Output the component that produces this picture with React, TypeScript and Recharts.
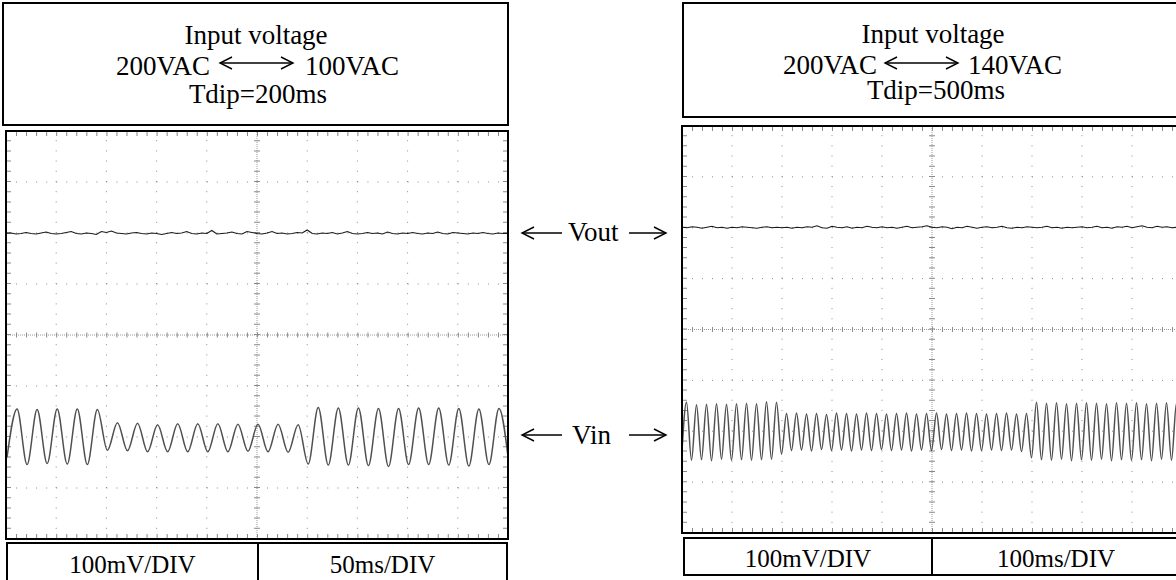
import React from "react";
import { LineChart, Line, XAxis, YAxis, ReferenceLine } from "recharts";

// 100mV/DIV, 8 divisions tall -> mV from -400 to 400
const DIV_X = [1, 2, 3, 4, 6, 7, 8, 9];
const DIV_Y = [-3, -2, -1, 1, 2, 3];

// left scope, 50ms/DIV: Vin extremes every 10ms (trough, peak, trough, ...)
const vinLeftStart = 1;
const vinLeftStep = 10;
const vinLeft = [
  -240, -145, -254, -146, -252, -145, -253, -145, -254, -146,
  -226, -172, -227, -173, -229, -176, -229, -174, -229, -174,
  -229, -174, -229, -175, -228, -175, -229, -175, -230, -176,
  -253, -142, -255, -143, -255, -143, -256, -144, -258, -144,
  -254, -143, -254, -143, -255, -144, -257, -145, -254, -144,
  -255,
];

const voutLeftStep = 5;
const voutLeft = [
  199, 200, 198, 199, 201, 199, 198, 200, 202, 199,
  198, 199, 201, 203, 199, 198, 200, 199, 197, 203,
  201, 204, 200, 199, 198, 200, 201, 199, 198, 200,
  199, 197, 199, 201, 199, 200, 203, 199, 198, 200,
  199, 205, 198, 199, 200, 202, 199, 198, 203, 201,
  199, 198, 200, 203, 199, 200, 198, 199, 201, 200,
  206, 199, 198, 200, 199, 201, 198, 200, 203, 199,
  198, 199, 201, 199, 200, 198, 202, 199, 198, 200,
  199, 201, 199, 198, 200, 199, 202, 199, 198, 201,
  200, 199, 198, 200, 199, 201, 199, 198, 200, 199,
  199,
];

// right scope, 100ms/DIV: Vin extremes every 10ms
const vinRightStart = -1;
const vinRightStep = 10;
const vinRight = [
  -255, -143, -257, -148, -256, -147, -258, -146, -255, -147,
  -257, -146, -256, -145, -257, -146, -256, -142, -255, -143,
  -245, -165, -238, -164, -237, -166, -239, -165, -236, -167,
  -238, -164, -237, -165, -239, -166, -237, -164, -238, -165,
  -236, -166, -238, -165, -237, -164, -239, -166, -237, -165,
  -238, -164, -236, -166, -238, -165, -237, -164, -239, -165,
  -238, -166, -237, -165, -238, -164, -237, -166, -240, -165,
  -252, -143, -256, -145, -257, -144, -255, -146, -258, -145,
  -256, -144, -257, -145, -255, -146, -258, -144, -256, -145,
  -257, -144, -256, -146, -258, -145, -255, -144, -257, -145,
  -256,
];

const voutRightStep = 10;
const voutRight = [
  201, 200, 202, 201, 199, 201, 203, 200, 201, 199,
  201, 200, 202, 201, 200, 199, 201, 202, 200, 201,
  200, 201, 199, 201, 200, 202, 201, 204, 200, 199,
  203, 201, 200, 202, 199, 201, 200, 203, 201, 200,
  202, 200, 201, 199, 201, 203, 200, 201, 202, 204,
  201, 200, 202, 201, 198, 201, 200, 203, 201, 199,
  201, 202, 200, 201, 203, 200, 199, 201, 200, 202,
  201, 200, 201, 203, 200, 201, 199, 201, 200, 201,
  202, 200, 201, 203, 200, 201, 199, 202, 201, 203,
  200, 202, 204, 201, 200, 203, 201, 202, 200, 201,
  201,
];

const GRID = "#8a8a8a";
const SERIF = "'Liberation Serif', 'Times New Roman', serif";

const toPoints = (vals: number[], start: number, step: number) =>
  vals.map((v, i) => ({ t: start + i * step, v }));

interface ScopeProps {
  width: number;
  height: number;
  msPerDiv: number;
  vin: { t: number; v: number }[];
  vout: { t: number; v: number }[];
}

const Scope = ({ width, height, msPerDiv, vin, vout }: ScopeProps) => {
  const xMax = msPerDiv * 10;
  const minorX = width / 50;
  const minorY = height / 40;
  const dotsH = `1 ${minorX - 1}`;
  const dotsV = `1 ${minorY - 1}`;

  return (
    <LineChart width={width} height={height} margin={{ top: 0, right: 0, bottom: 0, left: 0 }}>
      <XAxis type="number" dataKey="t" domain={[0, xMax]} hide allowDataOverflow />
      <YAxis type="number" dataKey="v" domain={[-400, 400]} hide allowDataOverflow />

      {DIV_X.map((d) => (
        <ReferenceLine key={"gx" + d} x={d * msPerDiv} stroke={GRID} strokeDasharray={dotsV} />
      ))}
      {DIV_Y.map((d) => (
        <ReferenceLine key={"gy" + d} y={d * 100} stroke={GRID} strokeDasharray={dotsH} />
      ))}

      {/* edge ticks */}
      <ReferenceLine y={-400} stroke={GRID} strokeWidth={10} strokeDasharray={dotsH} />
      <ReferenceLine y={400} stroke={GRID} strokeWidth={10} strokeDasharray={dotsH} />
      <ReferenceLine x={0} stroke={GRID} strokeWidth={10} strokeDasharray={dotsV} />
      <ReferenceLine x={xMax} stroke={GRID} strokeWidth={10} strokeDasharray={dotsV} />

      {/* centre cross with ticks */}
      <ReferenceLine y={0} stroke="#9a9a9a" strokeDasharray="1 1" />
      <ReferenceLine x={xMax / 2} stroke="#9a9a9a" strokeDasharray="1 1" />
      <ReferenceLine y={0} stroke={GRID} strokeWidth={5} strokeDasharray={dotsH} />
      <ReferenceLine x={xMax / 2} stroke={GRID} strokeWidth={6} strokeDasharray={dotsV} />

      <Line
        data={vout}
        dataKey="v"
        type="linear"
        stroke="#1a1a1a"
        strokeWidth={1.1}
        dot={false}
        activeDot={false}
        isAnimationActive={false}
      />
      <Line
        data={vin}
        dataKey="v"
        type="monotone"
        stroke="#505050"
        strokeWidth={1.5}
        dot={false}
        activeDot={false}
        isAnimationActive={false}
      />
    </LineChart>
  );
};

const Arrow = ({ x1, x2, y, left, right }: { x1: number; x2: number; y: number; left?: boolean; right?: boolean }) => (
  <g stroke="#000" strokeWidth={1.4} fill="none">
    <line x1={x1} y1={y} x2={x2} y2={y} />
    {left && <polyline points={`${x1 + 12},${y - 6} ${x1},${y} ${x1 + 12},${y + 6}`} />}
    {right && <polyline points={`${x2 - 12},${y - 6} ${x2},${y} ${x2 - 12},${y + 6}`} />}
  </g>
);

export default function App() {
  return (
    <div
      style={{
        position: "absolute",
        left: 0,
        top: 0,
        width: 1176,
        height: 580,
        overflow: "hidden",
        background: "#fff",
      }}
    >
      <div style={{ position: "absolute", left: 6, top: 131 }}>
        <Scope
          width={502}
          height={408}
          msPerDiv={50}
          vin={toPoints(vinLeft, vinLeftStart, vinLeftStep)}
          vout={toPoints(voutLeft, 0, voutLeftStep)}
        />
      </div>
      <div style={{ position: "absolute", left: 682, top: 126 }}>
        <Scope
          width={500}
          height={407}
          msPerDiv={100}
          vin={toPoints(vinRight, vinRightStart, vinRightStep)}
          vout={toPoints(voutRight, 0, voutRightStep)}
        />
      </div>

      <svg
        width={1176}
        height={580}
        style={{ position: "absolute", left: 0, top: 0, pointerEvents: "none" }}
        fontFamily={SERIF}
      >
        {/* left panel frames */}
        <rect x={3} y={3} width={505} height={122} fill="none" stroke="#000" strokeWidth={2} />
        <rect x={6} y={131} width={502} height={408} fill="none" stroke="#000" strokeWidth={2} />
        <rect x={7} y={543} width={500} height={50} fill="none" stroke="#000" strokeWidth={2} />
        <line x1={258} y1={543} x2={258} y2={580} stroke="#000" strokeWidth={2} />

        {/* right panel frames */}
        <rect x={683} y={3} width={510} height={114} fill="none" stroke="#000" strokeWidth={2} />
        <rect x={682} y={126} width={510} height={407} fill="none" stroke="#000" strokeWidth={2} />
        <rect x={684} y={538} width={510} height={37} fill="none" stroke="#000" strokeWidth={2} />
        <line x1={932} y1={538} x2={932} y2={575} stroke="#000" strokeWidth={2} />

        <g fontSize={27} fill="#000">
          <text x={256} y={44} textAnchor="middle">Input voltage</text>
          <text x={210} y={75} textAnchor="end">200VAC</text>
          <text x={305} y={75}>100VAC</text>
          <text x={258} y={103} textAnchor="middle">Tdip=200ms</text>

          <text x={933} y={43} textAnchor="middle">Input voltage</text>
          <text x={877} y={74} textAnchor="end">200VAC</text>
          <text x={968} y={74}>140VAC</text>
          <text x={936} y={99} textAnchor="middle">Tdip=500ms</text>

          <text x={568} y={241}>Vout</text>
          <text x={572} y={444}>Vin</text>
        </g>
        <Arrow x1={220} x2={293} y={63} left right />
        <Arrow x1={885} x2={958} y={63} left right />
        <Arrow x1={522} x2={562} y={233} left />
        <Arrow x1={629} x2={666} y={233} right />
        <Arrow x1={522} x2={562} y={435} left />
        <Arrow x1={629} x2={666} y={435} right />

        <g fontSize={25} fill="#000" textAnchor="middle">
          <text x={132.5} y={573}>100mV/DIV</text>
          <text x={382.5} y={573}>50ms/DIV</text>
          <text x={808} y={567}>100mV/DIV</text>
          <text x={1056} y={567}>100ms/DIV</text>
        </g>
      </svg>
    </div>
  );
}
